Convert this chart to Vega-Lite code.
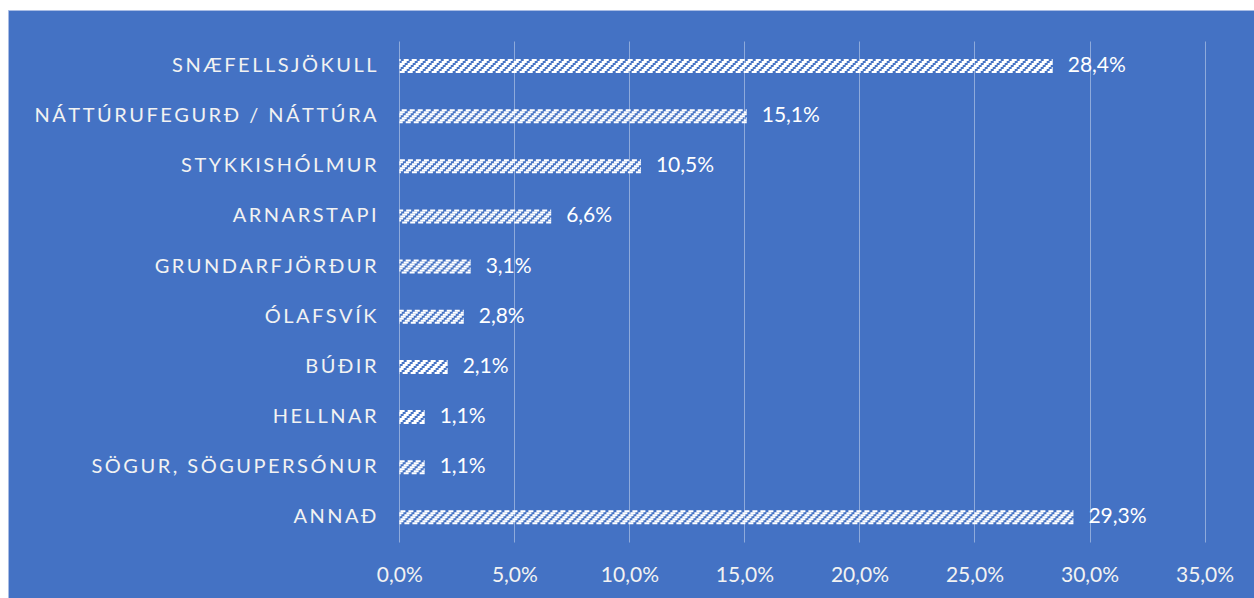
{
  "$schema": "https://vega.github.io/schema/vega-lite/v6.json",
  "width": 1246,
  "height": 588,
  "autosize": {"type": "none"},
  "padding": {"left": 8, "top": 10, "right": 0, "bottom": 0},
  "background": "white",
  "config": {
    "view": {"fill": "#4472c4", "stroke": "#a9bce4", "strokeWidth": 1},
    "locale": {"number": {"decimal": ",", "thousands": ".", "grouping": [3], "currency": ["", " kr."]}},
    "font": "Lato"
  },
  "data": {
    "values": [
      {"cat": "SNÆFELLSJÖKULL", "value": 0.284},
      {"cat": "NÁTTÚRUFEGURÐ / NÁTTÚRA", "value": 0.151},
      {"cat": "STYKKISHÓLMUR", "value": 0.105},
      {"cat": "ARNARSTAPI", "value": 0.066},
      {"cat": "GRUNDARFJÖRÐUR", "value": 0.031},
      {"cat": "ÓLAFSVÍK", "value": 0.028},
      {"cat": "BÚÐIR", "value": 0.021},
      {"cat": "HELLNAR", "value": 0.011},
      {"cat": "SÖGUR, SÖGUPERSÓNUR", "value": 0.011},
      {"cat": "ANNAÐ", "value": 0.293}
    ]
  },
  "encoding": {
    "y": {
      "field": "cat", "type": "nominal", "sort": null,
      "scale": {"type": "band", "paddingInner": 0.275, "paddingOuter": 1, "align": 0.377},
      "axis": {
        "orient": "left", "offset": -391, "labelPadding": 23, "domain": false, "ticks": false, "grid": false,
        "title": null, "labelFontSize": 20, "labelColor": "#f2f2f2", "labelFont": "Lato", "labelLimit": 0,
        "labelExpr": "join(split(datum.label, ''), '\u2009')"
      }
    },
    "x": {"field": "value", "type": "quantitative",
          "scale": {"domain": [-0.1701, 0.3715], "nice": false, "zero": false},
          "axis": {"orient": "bottom", "offset": -56, "values": [0, 0.05, 0.1, 0.15, 0.2, 0.25, 0.3, 0.35], "format": ".1%",
                   "tickSize": -501, "tickColor": "#8eaadb", "tickWidth": 1, "domain": false, "grid": false,
                   "labelPadding": 523, "labelFontSize": 21, "labelColor": "#f2f2f2", "labelFont": "Lato", "labelFlush": false, "title": null}}
  },
  "layer": [
    {"mark": {"type": "rule", "color": "white", "strokeWidth": 2, "strokeDash": [5, 3], "strokeDashOffset": 4, "yOffset": -6},
     "encoding": {"x2": {"datum": 0}}},
    {"mark": {"type": "rule", "color": "white", "strokeWidth": 2, "strokeDash": [5, 3], "strokeDashOffset": 2, "yOffset": -4},
     "encoding": {"x2": {"datum": 0}}},
    {"mark": {"type": "rule", "color": "white", "strokeWidth": 2, "strokeDash": [5, 3], "strokeDashOffset": 0, "yOffset": -2},
     "encoding": {"x2": {"datum": 0}}},
    {"mark": {"type": "rule", "color": "white", "strokeWidth": 2, "strokeDash": [5, 3], "strokeDashOffset": 6, "yOffset": 0},
     "encoding": {"x2": {"datum": 0}}},
    {"mark": {"type": "rule", "color": "white", "strokeWidth": 2, "strokeDash": [5, 3], "strokeDashOffset": 4, "yOffset": 2},
     "encoding": {"x2": {"datum": 0}}},
    {"mark": {"type": "rule", "color": "white", "strokeWidth": 2, "strokeDash": [5, 3], "strokeDashOffset": 2, "yOffset": 4},
     "encoding": {"x2": {"datum": 0}}},
    {"mark": {"type": "rule", "color": "white", "strokeWidth": 2, "strokeDash": [5, 3], "strokeDashOffset": 0, "yOffset": 6},
     "encoding": {"x2": {"datum": 0}}},
    {"mark": {"type": "text", "align": "left", "baseline": "middle", "dx": 15, "fontSize": 21, "color": "white", "font": "Lato"},
     "encoding": {"text": {"field": "value", "type": "quantitative", "format": ".1%"}}}
  ]
}
